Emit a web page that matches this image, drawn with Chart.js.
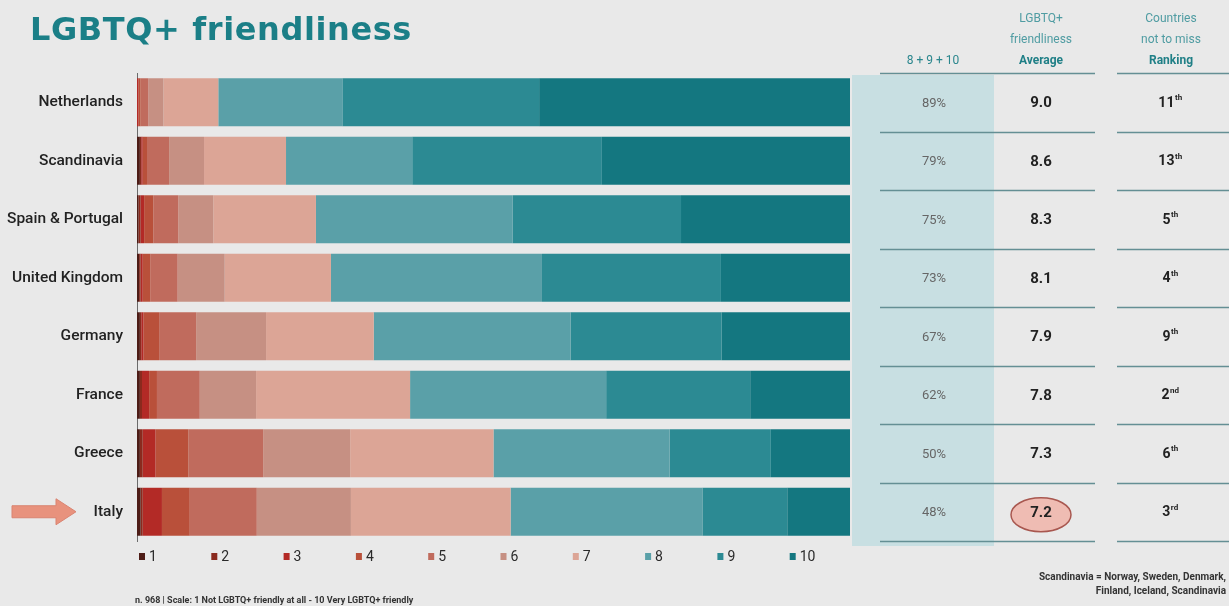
<!DOCTYPE html>
<html>
<head>
<meta charset="utf-8">
<script src="https://cdn.jsdelivr.net/npm/chart.js@4/dist/chart.umd.min.js"></script>
<style>
  html, body { margin:0; padding:0; background:#e9e9e9; }
  #wrap { position:relative; width:1229px; height:606px; overflow:hidden; background:#e9e9e9; font-family:'Roboto', 'Liberation Sans', sans-serif; }
  #chartBox { position:absolute; left:0; top:0; width:1229px; height:606px; }
  .title { position:absolute; left:30px; top:10px; font-family:'DejaVu Sans', sans-serif; font-weight:bold; font-size:32px; color:#1b7f87; letter-spacing:0.6px; white-space:nowrap; }
  .hdr { position:absolute; text-align:center; font-size:12px; line-height:21px; color:#4f9ca2; white-space:nowrap; }
  .hdr b { color:#1f7f86; }
  .note { position:absolute; font-size:9px; font-weight:bold; color:#333; white-space:nowrap; }
</style>
</head>
<body>
<div id="wrap">
  <div id="chartBox"><canvas id="c"></canvas></div>
  <div class="title">LGBTQ+ friendliness</div>
  <div class="hdr" style="left:883px; top:50px; width:100px; color:#2a868d;">8 + 9 + 10</div>
  <div class="hdr" style="left:991px; top:8px; width:100px;">LGBTQ+<br>friendliness<br><b>Average</b></div>
  <div class="hdr" style="left:1121px; top:8px; width:100px;">Countries<br>not to miss<br><b>Ranking</b></div>
  <div class="note" style="left:135px; top:595px;">n. 968 | Scale: 1 Not LGBTQ+ friendly at all - 10 Very LGBTQ+ friendly</div>
  <div class="note" style="right:3px; top:570px; text-align:right; font-size:10px; line-height:14px;">Scandinavia = Norway, Sweden, Denmark,<br>Finland, Iceland, Scandinavia</div>
</div>
<script>
// ---- data ----
const categories = ['Netherlands','Scandinavia','Spain & Portugal','United Kingdom','Germany','France','Greece','Italy'];
const scoreLabels = ['1','2','3','4','5','6','7','8','9','10'];
const score1  = [0,    0.4,  0.2,  0.3,  0.4,  0.4,  0.4,  0.5];
const score2  = [0,    0.2,  0.3,  0.2,  0.2,  0.3,  0.4,  0.3];
const score3  = [0.2,  0.2,  0.5,  0.3,  0.3,  1.0,  1.8,  2.7];
const score4  = [0.3,  0.6,  1.3,  1.1,  2.2,  1.1,  4.6,  3.9];
const score5  = [1.1,  3.1,  3.5,  3.8,  5.2,  6.0, 10.5,  9.4];
const score6  = [2.1,  4.9,  4.9,  6.6,  9.8,  7.9, 12.2, 13.2];
const score7  = [7.7, 11.5, 14.4, 14.9, 15.1, 21.6, 20.1, 22.4];
const score8  = [17.4, 17.7, 27.6, 29.6, 27.6, 27.5, 24.7, 26.9];
const score9  = [27.6, 26.6, 23.6, 25.1, 21.2, 20.2, 14.2, 11.9];
const score10 = [43.6, 34.8, 23.7, 18.1, 18.0, 14.0, 11.1,  8.8];
const top3Share   = ['89%','79%','75%','73%','67%','62%','50%','48%'];
const averages    = ['9.0','8.6','8.3','8.1','7.9','7.8','7.3','7.2'];
const rankNumbers = ['11','13','5','4','9','2','6','3'];
const rankSuffix  = ['th','th','th','th','th','nd','th','rd'];
const highlighted = 'Italy';

const scoreSeries = [score1,score2,score3,score4,score5,score6,score7,score8,score9,score10];
const colors = ['#4d1c16','#8a2a1e','#b32a26','#b9503a','#c06b5d','#c69083','#dca596','#5aa0a8','#2c8a93','#147780'];

const datasets = scoreSeries.map((d,i)=>({
  label: scoreLabels[i], data: d, backgroundColor: colors[i], borderWidth: 0,
  barPercentage: 0.82, categoryPercentage: 1.0
}));

const tablePlugin = {
  id: 'tablePlugin',
  beforeDatasetsDraw(chart) {
    const ctx = chart.ctx, ca = chart.chartArea;
    ctx.save();
    ctx.fillStyle = '#c8dfe2';
    ctx.fillRect(ca.right + 2, ca.top + 2, 142, ca.bottom - ca.top + 3);
    ctx.restore();
  },
  afterDraw(chart) {
    const ctx = chart.ctx, ca = chart.chartArea, y = chart.scales.y;
    const n = categories.length;
    const step = y.getPixelForValue(1) - y.getPixelForValue(0);
    ctx.save();
    // separator lines
    ctx.strokeStyle = '#648f94';
    ctx.lineWidth = 1.5;
    for (let i = 0; i <= n; i++) {
      const yy = Math.round(y.getPixelForValue(0) - step/2 + i*step) + 0.5;
      ctx.beginPath();
      ctx.moveTo(ca.right + 30, yy); ctx.lineTo(ca.right + 245, yy);
      ctx.moveTo(ca.right + 267, yy); ctx.lineTo(ca.right + 379, yy);
      ctx.stroke();
    }
    const pctX = ca.right + 84, avgX = ca.right + 191, rankX = ca.right + 320;
    ctx.textBaseline = 'middle';
    for (let i = 0; i < n; i++) {
      const yc = y.getPixelForValue(i);
      if (categories[i] === highlighted) {
        ctx.beginPath();
        ctx.ellipse(avgX, yc + 3, 30, 17, 0, 0, Math.PI*2);
        ctx.fillStyle = '#efbcb3'; ctx.fill();
        ctx.strokeStyle = '#a8574f'; ctx.lineWidth = 1.5; ctx.stroke();
      }
      ctx.textAlign = 'center';
      ctx.fillStyle = '#666';
      ctx.font = '13px Roboto, sans-serif';
      ctx.fillText(top3Share[i], pctX, yc + 1);
      ctx.fillStyle = '#222';
      ctx.font = 'bold 15px Roboto, sans-serif';
      ctx.fillText(averages[i], avgX, yc + 1);
      ctx.font = 'bold 14px Roboto, sans-serif';
      const w1 = ctx.measureText(rankNumbers[i]).width;
      ctx.font = 'bold 8px Roboto, sans-serif';
      const w2 = ctx.measureText(rankSuffix[i]).width;
      const sx = rankX - (w1 + w2)/2;
      ctx.textAlign = 'left';
      ctx.font = 'bold 14px Roboto, sans-serif';
      ctx.fillText(rankNumbers[i], sx, yc + 1);
      ctx.font = 'bold 8px Roboto, sans-serif';
      ctx.fillText(rankSuffix[i], sx + w1 + 0.5, yc - 4);
      if (categories[i] === highlighted) {
        ctx.beginPath();
        ctx.moveTo(12, yc - 6); ctx.lineTo(56, yc - 6); ctx.lineTo(56, yc - 13);
        ctx.lineTo(76, yc); ctx.lineTo(56, yc + 13); ctx.lineTo(56, yc + 6);
        ctx.lineTo(12, yc + 6); ctx.closePath();
        ctx.fillStyle = '#e8927d'; ctx.fill();
        ctx.strokeStyle = '#d98371'; ctx.lineWidth = 1; ctx.stroke();
      }
    }
    // legend
    const ly = ca.bottom + 15;
    ctx.font = '14px Roboto, sans-serif';
    ctx.textAlign = 'left';
    for (let k = 0; k < scoreLabels.length; k++) {
      const lx = ca.left + 2 + k * 72.3;
      ctx.fillStyle = colors[k];
      ctx.fillRect(lx, ly - 3, 6, 7);
      ctx.fillStyle = '#2a2a2a';
      ctx.fillText(scoreLabels[k], lx + 10, ly + 1);
    }
    ctx.restore();
  }
};

new Chart(document.getElementById('c'), {
  type: 'bar',
  data: { labels: categories, datasets },
  options: {
    indexAxis: 'y',
    responsive: true,
    maintainAspectRatio: false,
    animation: false,
    layout: { padding: { left: 0, right: 379, top: 73, bottom: 65 } },
    plugins: { legend: { display: false }, tooltip: { enabled: false }, title: { display: false } },
    scales: {
      x: { stacked: true, min: 0, max: 100, display: false },
      y: {
        stacked: true,
        afterFit(scale) { scale.width = 137; },
        grid: { display: false, drawTicks: false },
        border: { display: true, color: '#6b6b6b', width: 1 },
        ticks: { color: '#222', padding: 14, font: { family: 'Roboto', size: 15.5, weight: '500' } }
      }
    }
  },
  plugins: [tablePlugin]
});
</script>
</body>
</html>
